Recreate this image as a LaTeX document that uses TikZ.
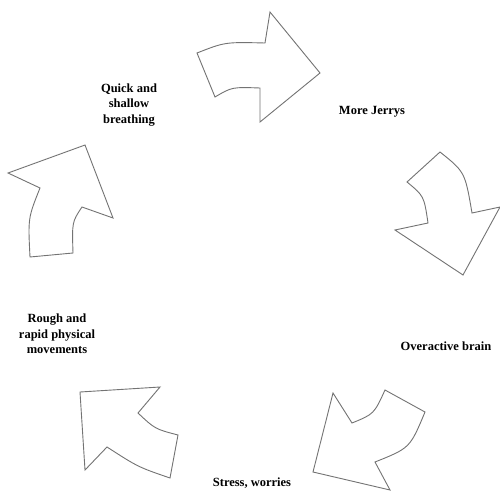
\documentclass[tikz,border=0pt]{standalone}
\usepackage{fontspec}
\setmainfont{Liberation Serif}
\begin{document}
\begin{tikzpicture}[x=1pt,y=-1pt,
  blockarrow/.style={draw=black!55,line width=0.9pt,fill=white,line join=miter},
  lab/.style={font=\fontsize{12.5}{15.5}\selectfont\bfseries,align=center,inner sep=0pt}]
\useasboundingbox (0,0) rectangle (500,495);
% arrow 1 (top)
\draw[blockarrow] (197,53) .. controls (225,42) .. (265,43) -- (270,12) -- (320,73) -- (260,122) -- (260,88) .. controls (232,87) .. (215,97) -- cycle;
% arrow 2 (right)
\draw[blockarrow] (440,152) .. controls (465,172) .. (472,213) -- (500,207) -- (463,275) -- (395,230) -- (428,223) .. controls (424,196) .. (407,182) -- cycle;
% arrow 3 (bottom right)
\draw[blockarrow] (333,393) -- (352,423) .. controls (374,414) .. (385,390) -- (425,412) .. controls (410,448) .. (375,462) -- (390,490) -- (313,472) -- cycle;
% arrow 4 (bottom left)
\draw[blockarrow] (80,392) -- (160,387) -- (138,413) .. controls (155,429) .. (178,435) -- (170,478) .. controls (138,467) .. (107,447) -- (85,470) -- cycle;
% arrow 5 (left)
\draw[blockarrow] (8,173) -- (85,145) -- (113,218) -- (82,207) .. controls (72,222) .. (73,253) -- (30,257) .. controls (28,218) .. (40,188) -- cycle;
% labels
\node[lab] (quick) at (129,105) {Quick and\\shallow\\breathing};
\node[lab] (more) at (372,112) {More Jerrys};
\node[lab] (over) at (446,346) {Overactive brain};
\node[lab] (stress) at (252,483) {Stress, worries};
\node[lab] (rough) at (57,334) {Rough and\\rapid physical\\movements};
\end{tikzpicture}
\end{document}
